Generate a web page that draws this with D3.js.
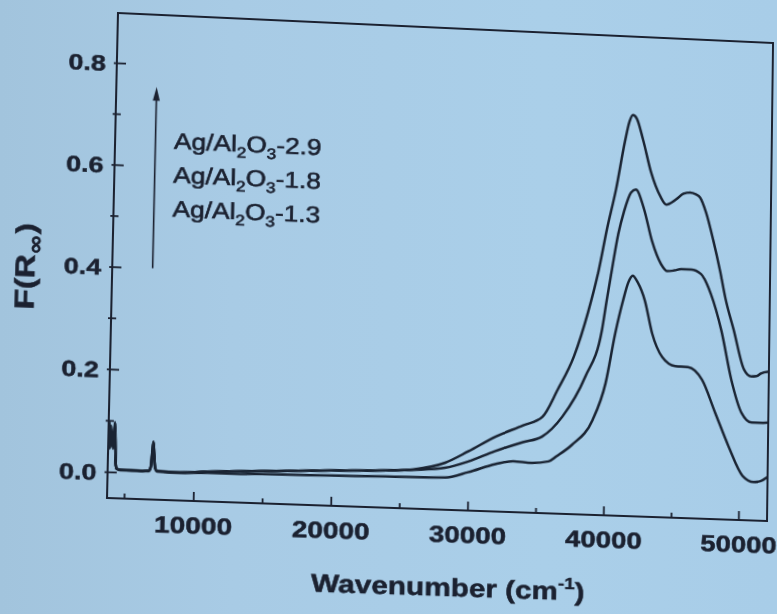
<!DOCTYPE html>
<html>
<head>
<meta charset="utf-8">
<script src="https://cdn.jsdelivr.net/npm/d3@7"></script>
<style>
  html, body { margin: 0; padding: 0; }
  body {
    width: 777px; height: 614px; overflow: hidden; position: relative;
    background: linear-gradient(90deg, #a2c4dd 0%, #a8cbe5 30%, #aacfe9 70%, #a8cde8 100%);
  }
  #chart { position: absolute; left: 0; top: 0; }
  #chart svg { display: block; overflow: visible; transform-origin: 0 0; }
  .tick text { font-family: "Liberation Sans", Arial, sans-serif; font-weight: bold; fill: #1b2130; stroke: #1b2130; stroke-width: 0.5px; }
  .tick line { stroke: #1b2130; stroke-width: 1.8; }
</style>
</head>
<body>
<div id="chart"></div>
<script>
//-----------------------------DATA-----------------------------//
// [wavenumber (cm-1), F(R)]
const series_29 = [[3800,0.062],[3840,0.098],[3880,0.05],[3930,0.085],[3980,0.055],[4040,0.078],[4100,0.05],[4170,0.07],[4230,0.097],[4290,0.05],[4340,0.016],[4420,0.007],[4700,0.005],[5500,0.005],[6300,0.004],[6750,0.005],[6880,0.013],[6980,0.045],[7040,0.062],[7100,0.04],[7200,0.011],[7350,0.005],[9000,0.004],[11000,0.007],[15000,0.012],[20000,0.018],[24000,0.022],[26000,0.026],[28300,0.041],[30000,0.065],[32000,0.096],[34000,0.12],[35400,0.138],[36500,0.193],[37660,0.26],[38650,0.348],[39400,0.433],[39950,0.513],[40580,0.593],[41200,0.69],[41500,0.728],[41760,0.742],[42050,0.735],[42530,0.694],[43170,0.629],[43870,0.583],[44320,0.567],[45050,0.578],[45600,0.59],[46080,0.593],[46500,0.59],[46830,0.584],[47290,0.555],[47850,0.501],[48420,0.437],[48840,0.384],[49470,0.324],[50280,0.246],[50810,0.233],[51200,0.234],[51540,0.24],[52100,0.244]];
const series_18 = [[3800,0.055],[3850,0.09],[3900,0.06],[3950,0.08],[4000,0.05],[4060,0.072],[4120,0.055],[4190,0.08],[4240,0.092],[4300,0.045],[4350,0.014],[4420,0.006],[4700,0.005],[5500,0.004],[6300,0.004],[6750,0.005],[6880,0.012],[6980,0.044],[7040,0.06],[7100,0.039],[7200,0.01],[7350,0.005],[9000,0.004],[11000,0.007],[15000,0.012],[20000,0.018],[24000,0.022],[26000,0.025],[28300,0.031],[30000,0.045],[31940,0.067],[34000,0.087],[35380,0.099],[36870,0.14],[38510,0.22],[39690,0.313],[40010,0.372],[40400,0.44],[40800,0.505],[41200,0.55],[41700,0.588],[42050,0.594],[42670,0.557],[43310,0.493],[44010,0.448],[44470,0.435],[45000,0.437],[45500,0.44],[46240,0.44],[46980,0.432],[47740,0.393],[48550,0.322],[49350,0.224],[50140,0.16],[50890,0.142],[51500,0.142],[52100,0.143]];
const series_13 = [[3800,0.05],[3850,0.085],[3900,0.045],[3950,0.09],[4010,0.06],[4070,0.07],[4130,0.045],[4200,0.075],[4250,0.095],[4310,0.04],[4360,0.012],[4440,0.006],[4700,0.004],[5500,0.004],[6300,0.004],[6750,0.004],[6890,0.012],[6990,0.044],[7050,0.06],[7110,0.038],[7210,0.01],[7350,0.004],[9000,0.003],[11000,0.005],[13000,0.005],[15000,0.006],[20000,0.008],[24000,0.01],[28300,0.012],[30000,0.024],[32000,0.042],[33300,0.049],[34700,0.047],[35900,0.051],[36500,0.062],[37600,0.085],[39110,0.136],[40020,0.209],[40680,0.308],[41220,0.373],[41600,0.41],[41920,0.423],[42300,0.41],[42840,0.375],[43410,0.311],[44180,0.265],[45150,0.248],[46110,0.247],[47160,0.223],[48170,0.159],[49190,0.094],[50280,0.036],[51090,0.025],[51600,0.027],[51980,0.033],[52100,0.036]];

const legend_labels = [["Ag/Al", "2", "O", "3", "-2.9"], ["Ag/Al", "2", "O", "3", "-1.8"], ["Ag/Al", "2", "O", "3", "-1.3"]];
const x_ticks = [10000, 20000, 30000, 40000, 50000];
const x_minor = [5000, 15000, 25000, 35000, 45000];
const y_ticks = [0.0, 0.2, 0.4, 0.6, 0.8];
const y_minor = [0.1, 0.3, 0.5, 0.7];

//------------------------1. PREPARATION------------------------//
const margin = { top: 13, left: 118 };
const width = 655;
const height = 485;
const ink = "#1b2130";

const svg = d3.select("#chart").append("svg")
    .attr("width", 777)
    .attr("height", 614);

// the reference is a photo of a slide: warp the flat chart onto the photographed plane
function homography(src, dst) {
    const A = [], B = [];
    for (let i = 0; i < 4; i++) {
        const [x, y] = src[i], [X, Y] = dst[i];
        A.push([x, y, 1, 0, 0, 0, -x * X, -y * X]); B.push(X);
        A.push([0, 0, 0, x, y, 1, -x * Y, -y * Y]); B.push(Y);
    }
    for (let c = 0; c < 8; c++) {
        let p = c;
        for (let r = c + 1; r < 8; r++) if (Math.abs(A[r][c]) > Math.abs(A[p][c])) p = r;
        [A[c], A[p]] = [A[p], A[c]]; [B[c], B[p]] = [B[p], B[c]];
        for (let r = 0; r < 8; r++) {
            if (r === c) continue;
            const f = A[r][c] / A[c][c];
            for (let k = c; k < 8; k++) A[r][k] -= f * A[c][k];
            B[r] -= f * B[c];
        }
    }
    return B.map((b, i) => b / A[i][i]);
}
const L = margin.left, T = margin.top, R = L + width, Bm = T + height;
const h = homography(
    [[L, T], [R, T], [R, Bm], [L, Bm]],
    [[118, 13], [773, 43], [767, 521], [107, 498]]);
svg.style("transform", "matrix3d(" + [h[0], h[3], 0, h[6], h[1], h[4], 0, h[7], 0, 0, 1, 0, h[2], h[5], 0, 1].join(",") + ")");

const g = svg.append("g").attr("transform", "translate(" + L + "," + T + ")");

//----------------------------SCALES----------------------------//
const xScale = d3.scaleLinear().domain([3772, 52130]).range([0, width]);
const yScale = d3.scaleLinear().domain([-0.051, 0.898]).range([height, 0]);

//-----------------------------AXES-----------------------------//
const xaxis = d3.axisBottom(xScale).tickValues(x_ticks).tickFormat(d3.format("d"))
    .tickSizeInner(-9).tickSizeOuter(0).tickPadding(16);
const xaxisMinor = d3.axisBottom(xScale).tickValues(x_minor).tickFormat("")
    .tickSizeInner(-5).tickSizeOuter(0);
const yaxis = d3.axisLeft(yScale).tickValues(y_ticks).tickFormat(d3.format(".1f"))
    .tickSizeInner(-9).tickSizeOuter(0).tickPadding(9);
const yaxisMinor = d3.axisLeft(yScale).tickValues(y_minor).tickFormat("")
    .tickSizeInner(-5).tickSizeOuter(0);

const gx = g.append("g").attr("transform", "translate(0," + height + ")").call(xaxis);
g.append("g").attr("transform", "translate(0," + height + ")").call(xaxisMinor);
const gy = g.append("g").call(yaxis);
g.append("g").call(yaxisMinor).selectAll(".tick line").attr("x1", -3);
gy.selectAll(".tick line").attr("x1", -3);
g.selectAll(".domain").remove();

gx.selectAll("text").style("font-size", "23px").attr("transform", "scale(1.2,1)");
gy.selectAll("text").style("font-size", "22px").attr("dy", "0.36em").attr("transform", "scale(1.2,1)");

// frame
g.append("rect")
    .attr("width", width)
    .attr("height", height)
    .style("fill", "none")
    .style("stroke", ink)
    .style("stroke-width", 2);

// axis titles
const xt = g.append("text")
    .attr("transform", "translate(" + (width / 2 + 10) + "," + (height + 86) + ") scale(1.18,1)")
    .style("text-anchor", "middle")
    .style("font-family", "Liberation Sans, Arial, sans-serif")
    .style("font-weight", "bold")
    .style("font-size", "25px")
    .style("fill", ink)
    .style("stroke", ink)
    .style("stroke-width", 0.5);
xt.append("tspan").text("Wavenumber (cm");
xt.append("tspan").attr("dy", -11).style("font-size", "16px").text("-1");
xt.append("tspan").attr("dy", 11).text(")");

const yt = g.append("text")
    .attr("transform", "translate(-76," + (height / 2 + 15) + ") rotate(-90) scale(1.22,1)")
    .style("text-anchor", "middle")
    .style("font-family", "Liberation Sans, Arial, sans-serif")
    .style("font-weight", "bold")
    .style("font-size", "27px")
    .style("fill", ink)
    .style("stroke", ink)
    .style("stroke-width", 0.5);
yt.append("tspan").text("F(R");
yt.append("tspan").attr("dy", 7).style("font-size", "20px").style("font-family", "DejaVu Sans").text("\u221e");
yt.append("tspan").attr("dy", -7).text(")");

//----------------------------LINES-----------------------------//
const line = d3.line()
    .curve(d3.curveMonotoneX)
    .x(function(d) { return xScale(d[0]); })
    .y(function(d) { return yScale(d[1]); });

g.append("clipPath").attr("id", "plot-clip")
    .append("rect").attr("width", width).attr("height", height);

g.append("g").attr("clip-path", "url(#plot-clip)")
    .selectAll("path")
    .data([series_13, series_18, series_29])
    .enter()
    .append("path")
    .attr("d", line)
    .style("fill", "none")
    .style("stroke", "#1a2433")
    .style("stroke-width", 2.5)
    .style("stroke-linejoin", "round");

//----------------------------LEGEND----------------------------//
const arrowX = xScale(6700);
g.append("line")
    .attr("x1", arrowX).attr("x2", arrowX)
    .attr("y1", yScale(0.40)).attr("y2", yScale(0.735))
    .style("stroke", ink)
    .style("stroke-width", 1.6);
g.append("path")
    .attr("d", "M" + arrowX + "," + (yScale(0.752) - 2) + " l-3.5,14 l7,0 z")
    .style("fill", ink);

const legend = g.append("g")
    .style("font-family", "Liberation Sans, Arial, sans-serif")
    .style("font-size", "23px")
    .style("fill", ink)
    .style("stroke", ink)
    .style("stroke-width", 0.6);
legend_labels.forEach(function(parts, i) {
    const t = legend.append("text")
        .attr("transform", "translate(" + xScale(8050) + "," + (134 + i * 34) + ") scale(1.13,1)");
    t.append("tspan").text(parts[0]);
    t.append("tspan").attr("dy", 6).style("font-size", "15px").text(parts[1]);
    t.append("tspan").attr("dy", -6).text(parts[2]);
    t.append("tspan").attr("dy", 6).style("font-size", "15px").text(parts[3]);
    t.append("tspan").attr("dy", -6).text(parts[4]);
});
</script>
</body>
</html>
